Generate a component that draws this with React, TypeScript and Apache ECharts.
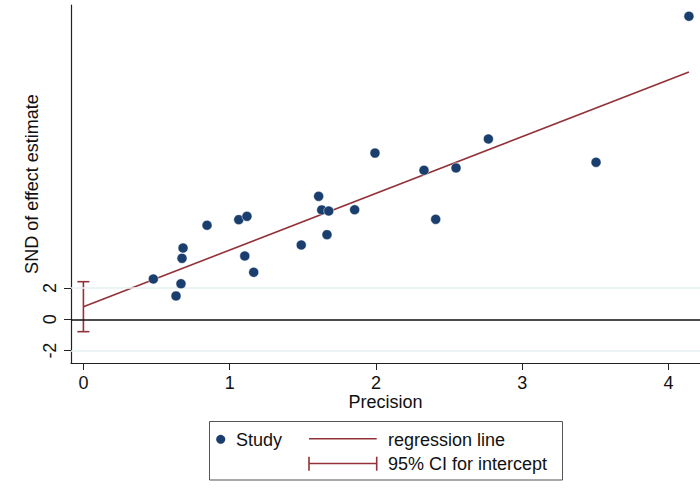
import React, { useEffect, useRef } from "react";
import * as echarts from "echarts";

// Study points: precision (x) and standard normal deviate (y)
const precision = [0.478, 0.633, 0.667, 0.674, 0.681, 0.845, 1.062, 1.118, 1.103, 1.164, 1.489, 1.608, 1.629, 1.677, 1.665, 1.854, 1.993, 2.328, 2.408, 2.547, 2.768, 3.504, 4.139];
const snd = [2.57, 1.49, 2.27, 3.89, 4.55, 6.0, 6.36, 6.57, 4.04, 3.0, 4.74, 7.85, 6.98, 6.91, 5.4, 6.99, 10.61, 9.51, 6.38, 9.66, 11.51, 10.02, 19.34];

// Regression (Egger) line and CI for intercept
const intercept = 0.8;
const slope = 3.62;
const ciIntercept = [-0.79, 2.4];

const xTicks = [0, 1, 2, 3, 4];
const yTicks = [-2, 0, 2];
const gridLines = [-2, 2];

const FONT = "Liberation Sans, Arial, sans-serif";
const NAVY = "#1a3e6e";
const MAROON = "#923238";

export default function App() {
  const ref = useRef<HTMLDivElement>(null);
  useEffect(() => {
    if (!ref.current) return;
    const chart = echarts.init(ref.current, undefined, { renderer: "svg" });
    const maxX = Math.max(...precision);
    const regData = [
      [0, intercept],
      [maxX, intercept + slope * maxX],
    ];
    const pts = precision.map((x, i) => [x, snd[i]]);
    chart.setOption({
      animation: false,
      backgroundColor: "#ffffff",
      grid: { left: 71, right: 0, top: 5, bottom: 132, containLabel: false },
      xAxis: {
        type: "value",
        min: -0.0848,
        max: 4.2146,
        name: "Precision",
        nameLocation: "middle",
        nameGap: 30,
        nameMoveOverlap: false,
        nameTextStyle: { fontFamily: FONT, fontSize: 18, color: "#111", lineHeight: 18 },
        axisLine: { show: true, onZero: false, lineStyle: { color: "#222", width: 1.2 } },
        axisTick: { show: true, length: 7, customValues: xTicks, lineStyle: { color: "#222", width: 1 } },
        axisLabel: { customValues: xTicks, fontFamily: FONT, fontSize: 18, color: "#111", margin: 11, lineHeight: 18 },
        splitLine: { show: false },
      },
      yAxis: {
        type: "value",
        min: -2.79,
        max: 20.06,
        name: "SND of effect estimate",
        nameLocation: "middle",
        nameGap: 30,
        nameMoveOverlap: false,
        nameRotate: 90,
        nameTextStyle: { fontFamily: FONT, fontSize: 18, color: "#111" },
        axisLine: { show: true, onZero: false, lineStyle: { color: "#222", width: 1.2 } },
        axisTick: { show: true, length: 7, customValues: yTicks, lineStyle: { color: "#222", width: 1 } },
        axisLabel: { customValues: yTicks, rotate: 90, fontFamily: FONT, fontSize: 18, color: "#111", margin: 12 },
        splitLine: { show: false },
      },
      series: [
        {
          type: "line",
          data: [],
          silent: true,
          markLine: {
            silent: true,
            symbol: "none",
            label: { show: false },
            data: [
              ...gridLines.map((v) => ({ yAxis: v, lineStyle: { color: "#e7f0f2", width: 1.5, type: "solid" } })),
              { yAxis: 0, lineStyle: { color: "#111", width: 1.5, type: "solid" } },
            ],
          },
        },
        {
          type: "scatter",
          data: pts,
          symbol: "circle",
          symbolSize: 10,
          itemStyle: { color: NAVY, opacity: 1, borderColor: "#fff", borderWidth: 0.5 },
          z: 5,
        },
        {
          type: "line",
          data: regData,
          showSymbol: false,
          symbol: "none",
          lineStyle: { color: MAROON, width: 1.6 },
          z: 4,
        },
        {
          type: "custom",
          data: [[0, ciIntercept[0], ciIntercept[1]]],
          z: 4,
          renderItem: (params: any, api: any) => {
            const lo = api.coord([api.value(0), api.value(1)]);
            const hi = api.coord([api.value(0), api.value(2)]);
            const cap = 6;
            const style = { stroke: MAROON, lineWidth: 1.6 };
            return {
              type: "group",
              children: [
                { type: "line", shape: { x1: lo[0], y1: lo[1], x2: hi[0], y2: hi[1] }, style },
                { type: "line", shape: { x1: lo[0] - cap, y1: lo[1], x2: lo[0] + cap, y2: lo[1] }, style },
                { type: "line", shape: { x1: hi[0] - cap, y1: hi[1], x2: hi[0] + cap, y2: hi[1] }, style },
              ],
            };
          },
        },
      ],
      graphic: [
        {
          type: "rect",
          shape: { x: 209.5, y: 421.5, width: 353, height: 58.5 },
          style: { fill: "#fff", stroke: "#555", lineWidth: 1 },
        },
        { type: "circle", shape: { cx: 220.7, cy: 439.3, r: 4.5 }, style: { fill: NAVY } },
        { type: "text", x: 236, y: 439.5, style: { text: "Study", font: `18px ${FONT}`, fill: "#111", verticalAlign: "middle", align: "left" } },
        { type: "line", shape: { x1: 309, y1: 438.7, x2: 376.7, y2: 438.7 }, style: { stroke: MAROON, lineWidth: 1.6 } },
        { type: "text", x: 388, y: 439.5, style: { text: "regression line", font: `18px ${FONT}`, fill: "#111", verticalAlign: "middle", align: "left" } },
        { type: "line", shape: { x1: 309, y1: 463.5, x2: 376.7, y2: 463.5 }, style: { stroke: MAROON, lineWidth: 1.6 } },
        { type: "line", shape: { x1: 309, y1: 456.7, x2: 309, y2: 470.7 }, style: { stroke: MAROON, lineWidth: 1.6 } },
        { type: "line", shape: { x1: 376.7, y1: 456.7, x2: 376.7, y2: 470.7 }, style: { stroke: MAROON, lineWidth: 1.6 } },
        { type: "text", x: 388, y: 463.5, style: { text: "95% CI for intercept", font: `18px ${FONT}`, fill: "#111", verticalAlign: "middle", align: "left" } },
      ],
    });
    return () => chart.dispose();
  }, []);
  return <div ref={ref} style={{ position: "fixed", left: 0, top: 0, width: 700, height: 495 }} />;
}
